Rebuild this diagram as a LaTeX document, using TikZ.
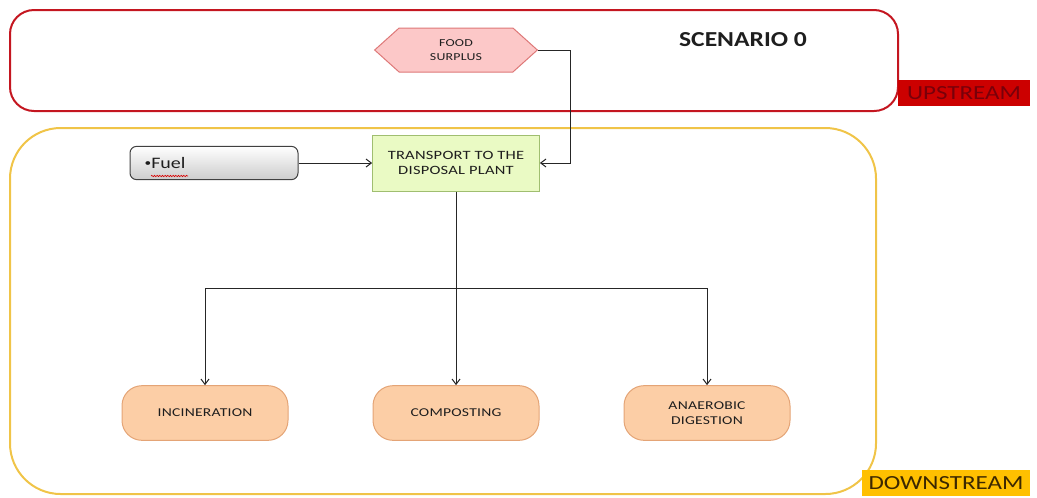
\documentclass[tikz,border=0pt]{standalone}
\usepackage{fontspec}
\setmainfont{Carlito}
\newfontfamily\capsfont[FakeStretch=1.3, LetterSpace=2]{Carlito}
\newfontfamily\tagfont[FakeStretch=1.25]{Carlito}
\newfontfamily\titlefont[FakeStretch=1.2]{Carlito}
\usetikzlibrary{positioning,shapes.symbols,arrows.meta,decorations.pathmorphing}

\definecolor{upRed}{RGB}{196,22,32}
\definecolor{upLabel}{RGB}{204,0,0}
\definecolor{upText}{RGB}{120,0,10}
\definecolor{downGold}{RGB}{240,196,72}
\definecolor{downLabel}{RGB}{255,192,0}
\definecolor{downText}{RGB}{60,40,0}
\definecolor{hexFill}{RGB}{252,200,200}
\definecolor{hexLine}{RGB}{222,120,120}
\definecolor{transFill}{RGB}{234,250,196}
\definecolor{transLine}{RGB}{160,190,112}
\definecolor{endFill}{RGB}{252,206,166}
\definecolor{endLine}{RGB}{228,164,118}
\definecolor{boxText}{RGB}{30,30,30}

\tikzset{every picture/.style={line width=0.75pt}}
\tikzset{
  boxlabel/.style={text=boxText, font=\capsfont\fontsize{9}{11}\selectfont, align=center, inner sep=0pt},
  foodhex/.style={boxlabel, shape=signal, signal to=west and east, signal pointer angle=84,
    draw=hexLine, fill=hexFill, minimum width=122pt, minimum height=33pt,
    font=\capsfont\fontsize{8}{10}\selectfont},
  transbox/.style={boxlabel, draw=transLine, fill=transFill, minimum width=125pt, minimum height=42pt,
    font=\capsfont\fontsize{9.5}{11.5}\selectfont},
  fuelbox/.style={draw=black!75, rounded corners=5pt, top color=white, bottom color=black!20,
    minimum width=126pt, minimum height=25pt, text width=104pt, align=left, inner sep=0pt,
    font=\tagfont\fontsize{12}{13}\selectfont, text=boxText},
  endbox/.style={boxlabel, draw=endLine, fill=endFill, rounded corners=15pt,
    minimum width=124.5pt, minimum height=41pt},
  flow/.style={-{Straight Barb[length=4pt,width=6pt]}, black!85},
  tagbox/.style={minimum height=20pt, inner sep=0pt, font=\tagfont\fontsize{15}{16}\selectfont}
}

\begin{document}
\begin{tikzpicture}[x=0.75pt,y=0.75pt,yscale=-1,xscale=1]
\path [use as bounding box] (0,0) rectangle (1037,497);

%Upstream frame
\draw [upRed, line width=1.5, rounded corners=18pt] (10,10) rectangle (898,111);
%Downstream frame
\draw [downGold, line width=1.5, rounded corners=38pt] (10,128) rectangle (876,494);

% Frame tags
\node [tagbox, fill=upLabel, text=upText, minimum width=99pt] (uptag) at (964,93) {UPSTREAM};
\node [tagbox, fill=downLabel, text=downText, minimum width=126pt] (downtag) at (946,483) {DOWNSTREAM};
\node [font=\titlefont\bfseries\fontsize{16}{18}\selectfont, text=boxText] (title) at (743,40) {SCENARIO 0};

% Boxes
\node [foodhex] (food) at (456,50) {FOOD\\SURPLUS};
\node [transbox] (trans) at (456,163) {TRANSPORT TO THE\\DISPOSAL PLANT};
\node [fuelbox] (fuel) at (214,163) {\raisebox{1.8pt}{\fontsize{8}{8}\selectfont\textbullet}Fuel};
\node [endbox] (incin) at (205,413) {INCINERATION};
\node [endbox] (compost) at (456,413) {COMPOSTING};
\node [endbox] (anaer) at (707,413) {ANAEROBIC\\DIGESTION};

%spelling underline
\draw [red!85!black, line width=0.5, decorate, decoration={snake, amplitude=0.5pt, segment length=2pt}] (151,176) -- (188,176);

% Connectors
\draw [flow] (food.east) -- ++(32,0) |- (trans.east);
\draw [flow] (fuel) -- (trans);
\draw [flow] (trans) -- (compost);
\coordinate (split) at (456,288);
\draw [flow] (split) -| (incin);
\draw [flow] (split) -| (anaer);

\end{tikzpicture}
\end{document}
